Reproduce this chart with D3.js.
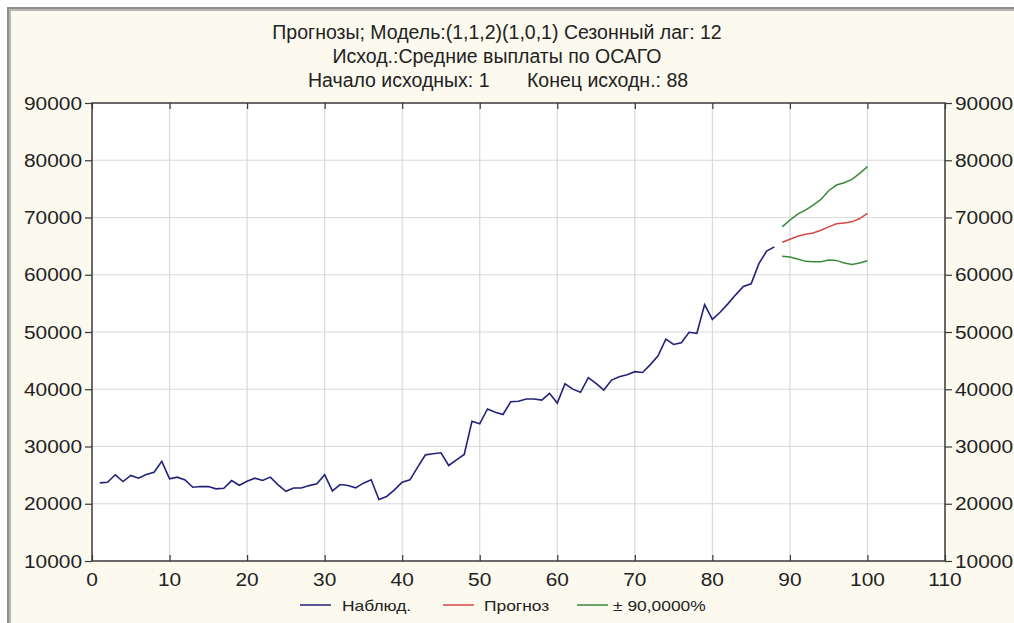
<!DOCTYPE html>
<html>
<head>
<meta charset="utf-8">
<script src="https://cdn.jsdelivr.net/npm/d3@7"></script>
<style>
  body { margin: 0; background: #ffffff; }
  svg { display: block; }
</style>
</head>
<body>
<div id="chart"></div>
<script>
// Observed series, t = 1..88
var observed = [23650, 23760, 25060, 23880, 24940, 24470, 25100, 25500, 27400, 24350,
  24650, 24170, 22880, 23000, 23000, 22600, 22700, 24050, 23230, 23940,
  24470, 24060, 24650, 23300, 22180, 22760, 22760, 23170, 23470, 25080,
  22250, 23350, 23180, 22780, 23600, 24180, 20750, 21270, 22430, 23770,
  24180, 26390, 28540, 28720, 28900, 26680, 27670, 28600, 34420, 33960,
  36550, 36000, 35600, 37810, 37900, 38300, 38300, 38100, 39290, 37580,
  40950, 40020, 39470, 42030, 41010, 39850, 41600, 42170, 42550, 43070,
  42930, 44300, 45840, 48750, 47820, 48110, 49950, 49770, 54790, 52210,
  53450, 54910, 56490, 57950, 58420, 61930, 64150, 64870];

// Forecast, t = 89..100
var forecast = [65670, 66200, 66730, 67080, 67310, 67780, 68360, 68890, 69060, 69240, 69820, 70700];
var upper = [68360, 69530, 70590, 71290, 72160, 73160, 74680, 75670, 76080, 76670, 77720, 78890];
var lower = [63220, 63100, 62750, 62340, 62280, 62280, 62570, 62510, 62050, 61810, 62050, 62460];

var xTicks = [0, 10, 20, 30, 40, 50, 60, 70, 80, 90, 100, 110];
var yTicks = [10000, 20000, 30000, 40000, 50000, 60000, 70000, 80000, 90000];

var titleLines = ["Прогнозы; Модель:(1,1,2)(1,0,1) Сезонный лаг: 12",
  "Исход.:Средние выплаты по ОСАГО"];
var titleStart = "Начало исходных: 1";
var titleEnd = "Конец исходн.: 88";
var legendNames = ["Наблюд.", "Прогноз", "± 90,0000%"];
var legendColors = ["#22227a", "#d24848", "#3a8a3a"];

var drawChart = function () {
  var width = 1014, height = 623;
  var pLeft = 92, pRight = 945, pTop = 103, pBottom = 561;
  var stretch = 1.16;
  var labelFont = "'Liberation Sans', Arial, sans-serif";

  var svg = d3.select("#chart").append("svg")
    .attr("width", width)
    .attr("height", height);

  // window frame and cream background
  svg.append("rect").attr("x", 7).attr("y", 7).attr("width", width).attr("height", height)
    .attr("fill", "#8e8e8e");
  svg.append("rect").attr("x", 9).attr("y", 9).attr("width", width).attr("height", height)
    .attr("fill", "#b8b8b8");
  svg.append("rect").attr("x", 11).attr("y", 11).attr("width", width).attr("height", height)
    .attr("fill", "#fcf9ef");

  var x = d3.scaleLinear().domain([0, 110]).range([pLeft, pRight]);
  var y = d3.scaleLinear().domain([10000, 90000]).range([pBottom, pTop]);

  // plot area
  svg.append("rect").attr("x", pLeft).attr("y", pTop)
    .attr("width", pRight - pLeft).attr("height", pBottom - pTop)
    .attr("fill", "#ffffff");

  // grid
  svg.append("g").selectAll("line").data(xTicks.slice(1, -1)).enter().append("line")
    .attr("x1", d => x(d)).attr("x2", d => x(d))
    .attr("y1", pTop).attr("y2", pBottom)
    .attr("stroke", "#d9d9d9").attr("stroke-width", 1.2);
  svg.append("g").selectAll("line").data(yTicks.slice(1, -1)).enter().append("line")
    .attr("x1", pLeft).attr("x2", pRight)
    .attr("y1", d => y(d)).attr("y2", d => y(d))
    .attr("stroke", "#d9d9d9").attr("stroke-width", 1.2);

  // axes (ticks only, labels drawn separately)
  function styleAxis(g) {
    g.select(".domain").remove();
    g.selectAll(".tick line").attr("stroke", "#3a3a3a").attr("stroke-width", 1.2);
    g.selectAll(".tick text").remove();
  }
  svg.append("g").attr("transform", "translate(0," + pBottom + ")")
    .call(d3.axisTop(x).tickValues(xTicks).tickSize(6)).call(styleAxis);
  svg.append("g").attr("transform", "translate(0," + pTop + ")")
    .call(d3.axisBottom(x).tickValues(xTicks).tickSize(6)).call(styleAxis);
  svg.append("g").attr("transform", "translate(" + pLeft + ",0)")
    .call(d3.axisLeft(y).tickValues(yTicks).tickSize(7)).call(styleAxis);
  svg.append("g").attr("transform", "translate(" + pRight + ",0)")
    .call(d3.axisRight(y).tickValues(yTicks).tickSize(7)).call(styleAxis);

  svg.append("rect").attr("x", pLeft).attr("y", pTop)
    .attr("width", pRight - pLeft).attr("height", pBottom - pTop)
    .attr("fill", "none").attr("stroke", "#3a3a3a").attr("stroke-width", 1.5);

  // horizontally stretched label
  function label(tx, ty, txt, anchor, size) {
    svg.append("g").attr("transform", "translate(" + tx + "," + ty + ") scale(" + stretch + ",1)")
      .append("text")
      .attr("text-anchor", anchor)
      .attr("font-family", labelFont)
      .attr("font-size", size)
      .attr("fill", "#222")
      .text(txt);
  }

  xTicks.forEach(function (d) { label(x(d), 586, d, "middle", 18); });
  yTicks.forEach(function (d) {
    label(pLeft - 10, y(d) + 6.5, d, "end", 18);
    label(pRight + 10, y(d) + 6.5, d, "start", 18);
  });

  // title
  var titleFont = "'Liberation Sans Narrow', 'Arial Narrow', 'Liberation Sans', sans-serif";
  titleLines.forEach(function (t, i) {
    svg.append("text").attr("x", 497).attr("y", 39 + i * 24)
      .attr("text-anchor", "middle")
      .attr("font-family", titleFont).attr("font-size", 19.5)
      .attr("fill", "#222").text(t);
  });
  svg.append("text").attr("x", 308).attr("y", 87).attr("text-anchor", "start")
    .attr("font-family", titleFont).attr("font-size", 19.5).attr("fill", "#222").text(titleStart);
  svg.append("text").attr("x", 527).attr("y", 87).attr("text-anchor", "start")
    .attr("font-family", titleFont).attr("font-size", 19.5).attr("fill", "#222").text(titleEnd);

  // series
  var line = d3.line().x(d => x(d[0])).y(d => y(d[1]));
  var obsData = observed.map((v, i) => [i + 1, v]);
  var fcData = forecast.map((v, i) => [i + 89, v]);
  var upData = upper.map((v, i) => [i + 89, v]);
  var loData = lower.map((v, i) => [i + 89, v]);

  svg.append("path").datum(obsData).attr("d", line)
    .attr("fill", "none").attr("stroke", legendColors[0]).attr("stroke-width", 1.6);
  svg.append("path").datum(fcData).attr("d", line)
    .attr("fill", "none").attr("stroke", legendColors[1]).attr("stroke-width", 1.5);
  [upData, loData].forEach(function (dd) {
    svg.append("path").datum(dd).attr("d", line)
      .attr("fill", "none").attr("stroke", legendColors[2]).attr("stroke-width", 1.5);
  });

  // legend
  var legendLineX = [300, 443, 577];
  var legendTextX = [342, 484, 613];
  legendNames.forEach(function (n, i) {
    svg.append("line").attr("x1", legendLineX[i]).attr("x2", legendLineX[i] + 31)
      .attr("y1", 605).attr("y2", 605)
      .attr("stroke", legendColors[i]).attr("stroke-width", 1.5);
    label(legendTextX[i], 611, n, "start", 15);
  });
};

drawChart();
</script>
</body>
</html>
